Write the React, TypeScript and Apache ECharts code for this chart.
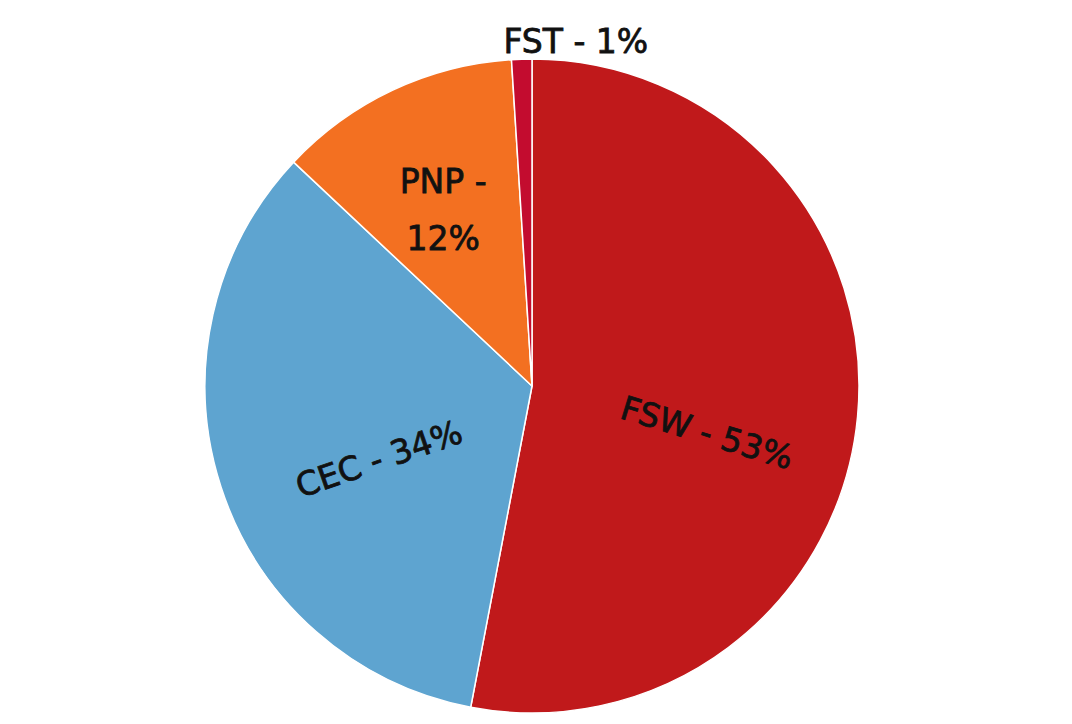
import React, { useEffect, useRef } from "react";
import * as echarts from "echarts";

const categories = ["FSW", "CEC", "PNP", "FST"];
const values = [53, 34, 12, 1];
const colors = ["#C0191B", "#5EA4D0", "#F37021", "#C30C2F"];
const labelTexts = ["FSW - 53%", "CEC - 34%", "PNP -\n12%", "FST - 1%"];
const labelRotate = [-17, 19, 0, 0];
const labelOffset = [
  [18, 27],
  [-2, 22],
  [-18, -25],
  [49, -178],
];

export default function App() {
  const ref = useRef<HTMLDivElement>(null);
  useEffect(() => {
    const chart = echarts.init(ref.current!, null, { renderer: "svg" });
    chart.setOption({
      animation: false,
      backgroundColor: "#ffffff",
      series: [
        {
          type: "pie",
          center: [532, 386],
          radius: 327,
          startAngle: 90,
          clockwise: true,
          itemStyle: { borderColor: "#ffffff", borderWidth: 1.5 },
          labelLine: { show: false },
          data: categories.map((c, i) => ({
            name: c,
            value: values[i],
            itemStyle: { color: colors[i] },
            label: {
              show: true,
              position: "inside",
              formatter: labelTexts[i],
              rotate: labelRotate[i],
              offset: labelOffset[i],
              color: "#111111",
              textBorderColor: "#111111",
              textBorderWidth: 0.8,
              fontFamily: "DejaVu Sans",
              fontWeight: "normal",
              fontSize: 33,
              lineHeight: 57,
              align: "center",
            },
          })),
        },
      ],
    });
    return () => chart.dispose();
  }, []);
  return (
    <div
      ref={ref}
      style={{ position: "fixed", left: 0, top: 0, width: 1072, height: 724 }}
    />
  );
}
